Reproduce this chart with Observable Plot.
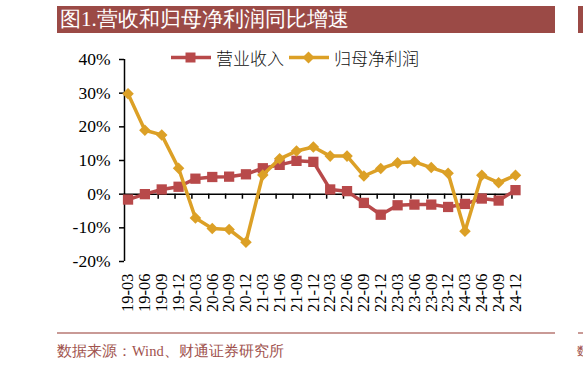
<!DOCTYPE html>
<html>
<head>
<meta charset="utf-8">
<script src="https://cdn.jsdelivr.net/npm/d3@7"></script>
<script src="https://cdn.jsdelivr.net/npm/@observablehq/plot@0.6"></script>
<style>
  html, body { margin: 0; padding: 0; background: #fff; }
  #wrap { position: relative; width: 583px; height: 369px; overflow: hidden; }
  #chart { position: absolute; left: 0; top: 0; }
  .bar { position: absolute; background: #9b4a46; }
  #title { left: 57px; top: 6px; width: 498px; height: 27px; color: #fff;
    font-family: "Liberation Serif", "Times New Roman", Times, Tinos, "DejaVu Serif", serif; font-size: 21px; line-height: 27px;
    padding-left: 3px; box-sizing: border-box; white-space: nowrap; font-weight: 300; }
  .sep { position: absolute; height: 1.5px; background: #c99a96; top: 332px; }
  .src { position: absolute; top: 341px; color: #a0524d;
    font-family: "Liberation Serif", "Times New Roman", Times, Tinos, "DejaVu Serif", serif; font-size: 14.5px; line-height: 20px; white-space: nowrap; }
  #legend { position: absolute; top: 46px; left: 170px; height: 22px; display: flex; align-items: center;
    font-family: "Noto Sans CJK SC", sans-serif; font-size: 17px; font-weight: 300; color: #111; white-space: nowrap; }
  #legend svg { display: block; }
</style>
</head>
<body>
<div id="wrap">
  <div id="chart"></div>
  <div class="bar" id="title">图1.营收和归母净利润同比增速</div>
  <div class="bar" style="left:578px;top:6px;width:10px;height:27px;"></div>
  <div id="legend"></div>
  <div class="sep" style="left:57px;width:498px;"></div>
  <div class="sep" style="left:578px;width:10px;"></div>
  <div class="src" style="left:57px;">数据来源：Wind、财通证券研究所</div>
  <div class="src" style="left:577px;font-size:12px;">数</div>
</div>
<script>
const quarters = ["19-03","19-06","19-09","19-12","20-03","20-06","20-09","20-12",
  "21-03","21-06","21-09","21-12","22-03","22-06","22-09","22-12",
  "23-03","23-06","23-09","23-12","24-03","24-06","24-09","24-12"];
const revenue = [-1.6, 0.0, 1.4, 2.2, 4.6, 5.1, 5.2, 5.9, 7.7, 8.7, 9.9, 9.6,
  1.4, 0.9, -2.6, -6.1, -3.3, -3.1, -3.1, -3.8, -2.9, -1.3, -1.9, 1.2];
const netProfit = [29.8, 19.0, 17.6, 7.7, -7.1, -10.2, -10.5, -14.3, 5.7, 10.5, 12.8, 14.0,
  11.3, 11.3, 5.4, 7.6, 9.3, 9.6, 7.9, 6.2, -11.0, 5.6, 3.4, 5.6];
const yTicks = [-20, -10, 0, 10, 20, 30, 40];
const seriesNames = ["营业收入", "归母净利润"];
const colors = ["#b8494a", "#dca026"];

const revData = quarters.map((q, i) => ({i, q, v: revenue[i]}));
const npData = quarters.map((q, i) => ({i, q, v: netProfit[i]}));
const off = -0.21;
const tickPos = quarters.map((q, i) => i + off);

const serif = "'Liberation Serif', 'Times New Roman', Times, Tinos, 'DejaVu Serif', serif";

const chart = Plot.plot({
  width: 583,
  height: 369,
  marginLeft: 124,
  marginRight: 68,
  marginTop: 59,
  marginBottom: 108,
  style: {fontFamily: serif, fontSize: "17.5px", color: "#000", background: "transparent"},
  x: {type: "linear", domain: [off, quarters.length - 1], axis: null},
  y: {domain: [-20, 40], axis: null},
  marks: [
    Plot.axisY({ticks: yTicks, label: null, tickSize: 5, tickPadding: 9, tickFormat: d => d + "%",
      fontSize: 17.5, fontFamily: serif, stroke: "#000", strokeWidth: 1.5, fill: "#000"}),
    Plot.ruleX([off], {y1: -20, y2: 40, stroke: "#000", strokeWidth: 1.5}),
    Plot.ruleY([0], {x1: off, x2: quarters.length - 1, stroke: "#000", strokeWidth: 1.5}),
    Plot.ruleX(tickPos, {y1: 0, y2: -1.5, stroke: "#000", strokeWidth: 1.5}),
    Plot.text(quarters, {x: (d, i) => i, y: -20, text: d => d, rotate: -90, textAnchor: "end",
      dy: 12, fontSize: 16.5, fontFamily: serif, fill: "#000"}),
    Plot.line(revData, {x: "i", y: "v", stroke: colors[0], strokeWidth: 3.5}),
    Plot.dot(revData, {x: "i", y: "v", symbol: "square", r: 5.8, fill: colors[0], stroke: "none"}),
    Plot.line(npData, {x: "i", y: "v", stroke: colors[1], strokeWidth: 3.5}),
    Plot.dot(npData, {x: "i", y: "v", symbol: "diamond2", r: 5.2, fill: colors[1], stroke: "none"})
  ]
});
document.getElementById("chart").appendChild(chart);

// legend
const legend = document.getElementById("legend");
const sym = ["M15.5,5.5h10v10h-10z", "M20.5,4.5l6,6l-6,6l-6,-6z"];
seriesNames.forEach((name, k) => {
  const s = document.createElementNS("http://www.w3.org/2000/svg", "svg");
  s.setAttribute("width", 42); s.setAttribute("height", 21);
  s.innerHTML = `<line x1="1" x2="41" y1="10.5" y2="10.5" stroke="${colors[k]}" stroke-width="3.5"/>` +
    `<path d="${sym[k]}" fill="${colors[k]}"/>`;
  legend.appendChild(s);
  const t = document.createElement("span");
  t.textContent = name;
  t.style.marginLeft = "4px";
  t.style.marginRight = "4px";
  legend.appendChild(t);
});
</script>
</body>
</html>
